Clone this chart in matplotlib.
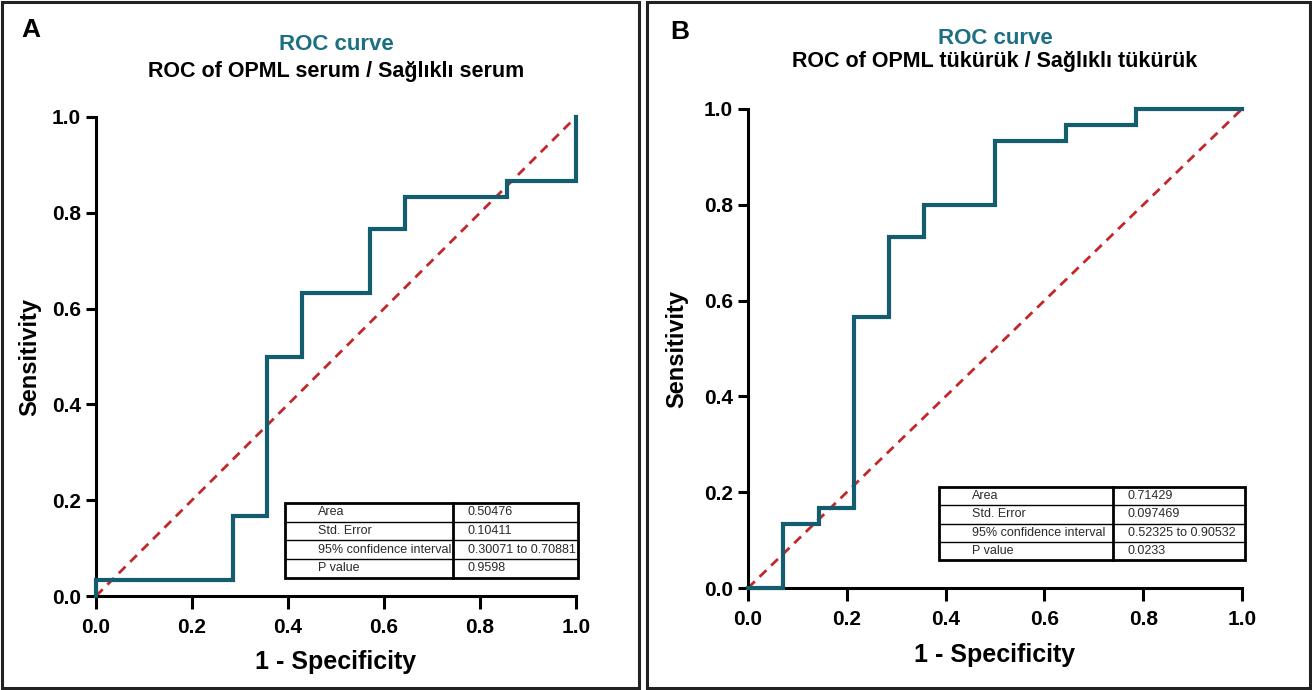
import matplotlib
matplotlib.use("Agg")
import matplotlib.pyplot as plt
from matplotlib.patches import Rectangle
from matplotlib.transforms import Bbox, TransformedBbox

plt.rcParams["font.family"] = ["Liberation Sans", "DejaVu Sans"]

# ROC points (1 - specificity, sensitivity), drawn as steps
fpr_a = [0.0, 0.0, 0.2857, 0.3571, 0.4286, 0.5714, 0.6429, 0.8571, 1.0]
tpr_a = [0.0, 0.0333, 0.1667, 0.5, 0.6333, 0.7667, 0.8333, 0.8667, 1.0]

fpr_b = [0.0, 0.0714, 0.1429, 0.2143, 0.2857, 0.3571, 0.5, 0.6429, 0.7857, 1.0]
tpr_b = [0.0, 0.1333, 0.1667, 0.5667, 0.7333, 0.8, 0.9333, 0.9667, 1.0, 1.0]

stat_names = ["Area", "Std. Error", "95% confidence interval", "P value"]
stats_a = ["0.50476", "0.10411", "0.30071 to 0.70881", "0.9598"]
stats_b = ["0.71429", "0.097469", "0.52325 to 0.90532", "0.0233"]

ticks = [0.0, 0.2, 0.4, 0.6, 0.8, 1.0]

CURVE = "#135d6e"
TITLE = "#1d6f82"
DIAG = "#c3272b"

W, H = 1312, 690
fig = plt.figure(figsize=(W / 100, H / 100), dpi=100)


def px_ax(left, bottom_px, width, height):
    # axes rect from pixel coords (bottom_px = y of x-axis from top)
    return fig.add_axes([left / W, 1 - bottom_px / H, width / W, height / H])


def draw_roc(ax, fpr, tpr):
    ax.plot([0, 1], [0, 1], color=DIAG, lw=2.0, ls=(0, (3.4, 2.4)), clip_on=False, zorder=2)
    ax.plot(fpr, tpr, drawstyle="steps-post", color=CURVE, lw=3.0, clip_on=False,
            solid_joinstyle="miter", zorder=3)
    ax.set_xlim(0, 1)
    ax.set_ylim(0, 1)
    ax.set_xticks(ticks)
    ax.set_yticks(ticks)
    ax.set_xticklabels([f"{t:.1f}" for t in ticks])
    ax.set_yticklabels([f"{t:.1f}" for t in ticks])
    for s in ["top", "right"]:
        ax.spines[s].set_visible(False)
    for s in ["left", "bottom"]:
        ax.spines[s].set_linewidth(2.2)
    ax.tick_params(direction="out", width=2.2, labelsize=15)
    ax.tick_params(axis="x", length=9, pad=7)
    ax.tick_params(axis="y", length=7, pad=4)
    for lab in ax.get_xticklabels() + ax.get_yticklabels():
        lab.set_fontweight("bold")
    ax.set_xlabel("1 - Specificity", fontsize=18, fontweight="bold", va="center")
    ax.set_ylabel("Sensitivity", fontsize=17, fontweight="bold", va="center")


def draw_table(ax, names, values, x0, xs, x1, y0, y1, pad1, pad2):
    n = len(names)
    rh = (y1 - y0) / n
    kw = dict(transform=ax.transAxes, clip_on=False, zorder=5)
    ax.add_patch(Rectangle((x0, y0), x1 - x0, y1 - y0, fill=True, fc="white",
                           ec="black", lw=2.0, **kw))
    ax.plot([xs, xs], [y0, y1], color="black", lw=2.0, **kw)
    for i in range(1, n):
        ax.plot([x0, x1], [y1 - i * rh] * 2, color="black", lw=1.0, **kw)
    for i, (nm, val) in enumerate(zip(names, values)):
        yc = y1 - (i + 0.5) * rh
        t = ax.text(x0 + pad1, yc, nm, fontsize=9, va="center", ha="left",
                    transform=ax.transAxes, zorder=6, color="#2a2a2a")
        t.set_clip_box(TransformedBbox(Bbox([[x0, y0], [xs - 0.004, y1]]), ax.transAxes))
        t.set_clip_on(True)
        ax.text(xs + pad2, yc, val, fontsize=9, va="center", ha="left",
                transform=ax.transAxes, zorder=6, color="#2a2a2a")


# panel frames
for x0, x1 in [(2, 639), (647, 1310)]:
    fig.patches.append(Rectangle((x0 / W, 2 / H), (x1 - x0) / W, (H - 4) / H,
                                 transform=fig.transFigure, fill=False,
                                 ec="#222222", lw=2.2))

# Panel A
ax_a = px_ax(96, 596, 480, 479)
draw_roc(ax_a, fpr_a, tpr_a)
ax_a.xaxis.set_label_coords(0.5, -0.138)
ax_a.yaxis.set_label_coords(-0.1375, 0.5)
draw_table(ax_a, stat_names, stats_a, 0.394, 0.744, 1.004, 0.038, 0.194, 0.069, 0.031)
fig.text(31 / W, 1 - 30 / H, "A", fontsize=19, fontweight="bold", ha="center", va="center")
fig.text(336 / W, 1 - 45 / H, "ROC curve", fontsize=16, fontweight="bold", color=TITLE,
         ha="center", va="center")
fig.text(336 / W, 1 - 71 / H, "ROC of OPML serum / Sağlıklı serum", fontsize=15.5,
         fontweight="bold", ha="center", va="center")

# Panel B
ax_b = px_ax(748, 588, 494, 479)
draw_roc(ax_b, fpr_b, tpr_b)
ax_b.xaxis.set_label_coords(0.5, -0.14)
ax_b.yaxis.set_label_coords(-0.144, 0.5)
draw_table(ax_b, stat_names, stats_b, 0.387, 0.739, 1.006, 0.058, 0.211, 0.067, 0.03)
fig.text(680 / W, 1 - 32 / H, "B", fontsize=19, fontweight="bold", ha="center", va="center")
fig.text(995 / W, 1 - 38 / H, "ROC curve", fontsize=16, fontweight="bold", color=TITLE,
         ha="center", va="center")
fig.text(995 / W, 1 - 62 / H, "ROC of OPML tükürük / Sağlıklı tükürük", fontsize=15.5,
         fontweight="bold", ha="center", va="center")

fig.savefig("out.png", dpi=100)
